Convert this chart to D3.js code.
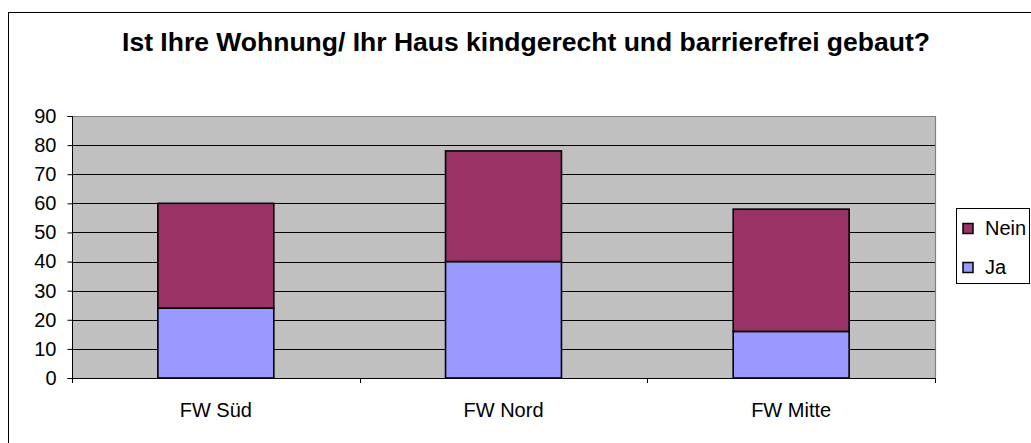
<!DOCTYPE html>
<html>
<head>
<meta charset="utf-8">
<script src="https://cdn.jsdelivr.net/npm/d3@7"></script>
<style>
  html, body { margin: 0; padding: 0; background: #fff; }
  svg { display: block; font-family: "Liberation Sans", Arial, sans-serif; }
</style>
</head>
<body>
<svg id="chart" width="1031" height="443"></svg>
<script>
const title = "Ist Ihre Wohnung/ Ihr Haus kindgerecht und barrierefrei gebaut?";
const categories = ["FW Süd", "FW Nord", "FW Mitte"];
const seriesNames = ["Ja", "Nein"];
const jaValues = [24, 40, 16];
const neinValues = [36, 38, 42];
const yTicks = [0, 10, 20, 30, 40, 50, 60, 70, 80, 90];
const colors = { "Ja": "#9999FF", "Nein": "#993366" };

const svg = d3.select("#chart");
const W = 1031, H = 443;
const plot = { left: 72, right: 935, top: 116, bottom: 378 };

// outer frame
svg.append("rect").attr("x", 8.5).attr("y", 12.5).attr("width", 1040).attr("height", 460)
  .attr("fill", "#fff").attr("stroke", "#000").attr("stroke-width", 1);

const x = d3.scaleBand().domain(categories).range([plot.left, plot.right]).paddingInner(0).paddingOuter(0);
const y = d3.scaleLinear().domain([0, 90]).range([plot.bottom, plot.top]);

// plot background
svg.append("rect").attr("x", plot.left).attr("y", plot.top)
  .attr("width", plot.right - plot.left).attr("height", plot.bottom - plot.top)
  .attr("fill", "#C0C0C0");

// gridlines
svg.append("g").selectAll("line").data(yTicks.filter(d => d > 0 && d < 90)).join("line")
  .attr("x1", plot.left).attr("x2", plot.right)
  .attr("y1", d => Math.round(y(d)) + 0.5).attr("y2", d => Math.round(y(d)) + 0.5)
  .attr("stroke", "#000").attr("stroke-width", 1);

// top and right border (gray)
svg.append("path")
  .attr("d", `M${plot.left},${Math.round(y(90)) + 0.5}H${plot.right + 0.5}V${plot.bottom}`)
  .attr("fill", "none").attr("stroke", "#808080").attr("stroke-width", 1.2);

// stacked bars
const rows = categories.map((c, i) => ({ cat: c, Ja: jaValues[i], Nein: neinValues[i] }));
const stack = d3.stack().keys(seriesNames)(rows);
const barW = x.bandwidth() * 0.403;
svg.append("g").selectAll("g").data(stack).join("g")
  .attr("fill", d => colors[d.key])
  .selectAll("rect").data(d => d).join("rect")
  .attr("x", d => x(d.data.cat) + (x.bandwidth() - barW) / 2)
  .attr("width", barW)
  .attr("y", d => y(d[1]))
  .attr("height", d => y(d[0]) - y(d[1]))
  .attr("stroke", "#000").attr("stroke-width", 1.6);

// y axis
const yAxis = d3.axisLeft(y).tickValues(yTicks).tickSize(5).tickPadding(11).tickFormat(d3.format("d"));
const gy = svg.append("g").attr("transform", `translate(${plot.left + 0.5},0)`).call(yAxis);
gy.selectAll("text").attr("font-size", 20).attr("fill", "#000")
  .attr("font-family", "'Liberation Sans', Arial, sans-serif");
gy.selectAll("line, path").attr("stroke", "#000");
gy.select(".domain").attr("d", `M-5,${y(90) + 0.5}H0V${plot.bottom + 0.5}H-5`);

// x axis
const xTickPos = [plot.left, plot.left + x.bandwidth(), plot.left + 2 * x.bandwidth(), plot.right];
svg.append("line").attr("x1", plot.left).attr("x2", plot.right + 0.5)
  .attr("y1", plot.bottom + 0.5).attr("y2", plot.bottom + 0.5).attr("stroke", "#000");
svg.append("g").selectAll("line").data(xTickPos).join("line")
  .attr("x1", d => Math.round(d) + 0.5).attr("x2", d => Math.round(d) + 0.5)
  .attr("y1", plot.bottom).attr("y2", plot.bottom + 5).attr("stroke", "#000");
svg.append("g").selectAll("text").data(categories).join("text")
  .attr("x", d => x(d) + x.bandwidth() / 2)
  .attr("y", 417)
  .attr("text-anchor", "middle")
  .attr("font-size", 20)
  .text(d => d);

// title
const t = svg.append("text")
  .attr("x", 526).attr("y", 51)
  .attr("text-anchor", "middle")
  .attr("font-weight", "bold")
  .attr("font-size", 26)
  .text(title);
const tw = t.node().getComputedTextLength();
t.attr("font-size", 26 * 808 / tw);

// legend
const lg = svg.append("g");
lg.append("rect").attr("x", 956.5).attr("y", 208.5).attr("width", 73).attr("height", 75)
  .attr("fill", "#fff").attr("stroke", "#000").attr("stroke-width", 1);
const legendItems = ["Nein", "Ja"];
const li = lg.selectAll("g.item").data(legendItems).join("g").attr("class", "item")
  .attr("transform", (d, i) => `translate(0,${i * 39})`);
li.append("rect").attr("x", 963).attr("y", 223.5).attr("width", 10).attr("height", 10)
  .attr("fill", d => colors[d]).attr("stroke", "#000").attr("stroke-width", 1.5);
li.append("text").attr("x", 985).attr("y", 234.5).attr("font-size", 20).text(d => d);
</script>
</body>
</html>
